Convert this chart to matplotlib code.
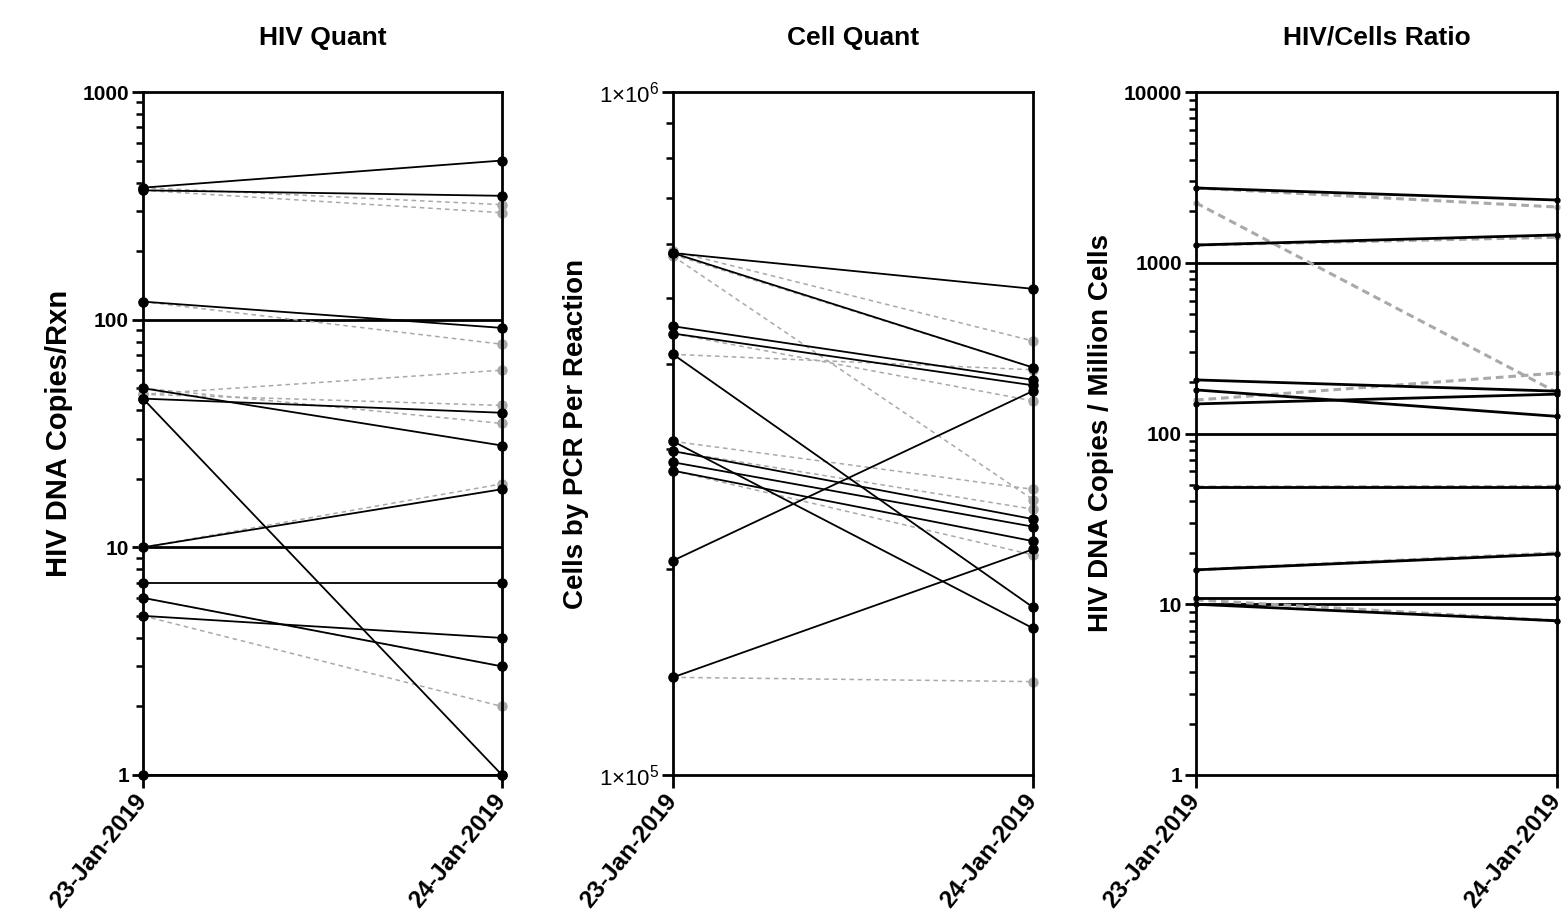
import matplotlib
matplotlib.use("Agg")
import matplotlib.pyplot as plt
from matplotlib.ticker import FixedLocator, LogLocator, NullFormatter, FixedFormatter

plt.rcParams['font.family'] = ['Liberation Sans', 'DejaVu Sans']
plt.rcParams['mathtext.fontset'] = 'custom'
plt.rcParams['mathtext.rm'] = 'Liberation Sans'
plt.rcParams['mathtext.it'] = 'Liberation Sans'

dates = ["23-Jan-2019", "24-Jan-2019"]
titles = ["HIV Quant", "Cell Quant", "HIV/Cells Ratio"]
ylabels = ["HIV DNA Copies/Rxn", "Cells by PCR Per Reaction", "HIV DNA Copies / Million Cells"]

# Panel 1: HIV Quant
hiv_black_d1 = [380, 370, 120, 50, 45, 45, 10, 7, 6, 5, 1]
hiv_black_d2 = [500, 350, 92, 28, 39, 1, 18, 7, 3, 4, 1]
hiv_gray_d1 = [380, 370, 120, 47, 47, 50, 10, 6, 5]
hiv_gray_d2 = [320, 295, 78, 60, 42, 35, 19, 3, 2]
hiv_ref = [100, 10]
hiv_ticks = [1, 10, 100, 1000]
hiv_ticklabels = ["1", "10", "100", "1000"]

# Panel 2: Cell Quant
cell_black_d1 = [581e3, 581e3, 454e3, 443e3, 413e3, 308e3, 298e3, 287e3, 279e3, 206e3, 139e3]
cell_black_d2 = [515e3, 395e3, 379e3, 372e3, 176e3, 164e3, 237e3, 231e3, 220e3, 365e3, 214e3]
cell_gray_d1 = [585e3, 578e3, 575e3, 413e3, 443e3, 308e3, 298e3, 279e3, 139e3]
cell_gray_d2 = [432e3, 395e3, 253e3, 392e3, 353e3, 262e3, 245e3, 210e3, 137e3]
cell_ticks = [1e5, 1e6]
cell_ticklabels = [r"1$\times$10$^{5}$", r"1$\times$10$^{6}$"]

# Panel 3: HIV/Cells Ratio
ratio_black_d1 = [2740, 1270, 206, 180, 149, 48.6, 15.9, 10.9, 10]
ratio_black_d2 = [2330, 1455, 177, 126, 170, 48.6, 19.7, 10.9, 8]
ratio_gray_d1 = [2740, 2240, 1270, 157, 48.6, 15.9, 10.6]
ratio_gray_d2 = [2120, 174, 1410, 226, 49, 20, 8]
ratio_ref = [1000, 100, 10]
ratio_ticks = [1, 10, 100, 1000, 10000]
ratio_ticklabels = ["1", "10", "100", "1000", "10000"]

W, H = 1568, 918
fig = plt.figure(figsize=(W / 100, H / 100), dpi=100)

panels = [
    dict(rect=(143, 92, 502, 775), black=(hiv_black_d1, hiv_black_d2), gray=(hiv_gray_d1, hiv_gray_d2),
         ref=hiv_ref, ylim=(1, 1000), ticks=hiv_ticks, tl=hiv_ticklabels, tlbold=True, tls=15,
         lw=1.3, glw=1.1, ms=6.5, gdash=(3, 2.5), reflw=2.0, yls=21),
    dict(rect=(673, 92, 1033, 775), black=(cell_black_d1, cell_black_d2), gray=(cell_gray_d1, cell_gray_d2),
         ref=[], ylim=(1e5, 1e6), ticks=cell_ticks, tl=cell_ticklabels, tlbold=False, tls=16,
         lw=1.3, glw=1.1, ms=6.5, gdash=(3, 2.5), reflw=2.0, yls=20),
    dict(rect=(1196, 92, 1557, 775), black=(ratio_black_d1, ratio_black_d2), gray=(ratio_gray_d1, ratio_gray_d2),
         ref=ratio_ref, ylim=(1, 10000), ticks=ratio_ticks, tl=ratio_ticklabels, tlbold=True, tls=15,
         lw=2.0, glw=2.2, ms=3.5, gdash=(2.5, 1.6), reflw=2.0, yls=20),
]

gray = "#a9a9a9"
for i, p in enumerate(panels):
    x0, y0, x1, y1 = p["rect"]
    ax = fig.add_axes([x0 / W, 1 - y1 / H, (x1 - x0) / W, (y1 - y0) / H])
    ax.set_yscale("log")
    ax.set_xlim(0, 1)
    ax.set_ylim(*p["ylim"])
    for v in p["ref"]:
        ax.plot([0, 1], [v, v], color="black", lw=p["reflw"], solid_capstyle="butt", zorder=2)
    gd1, gd2 = p["gray"]
    for a, b in zip(gd1, gd2):
        ax.plot([0, 1], [a, b], color=gray, lw=p["glw"], dashes=p["gdash"], marker="o",
                ms=p["ms"], mfc=gray, mec=gray, clip_on=False, zorder=3)
    bd1, bd2 = p["black"]
    for a, b in zip(bd1, bd2):
        ax.plot([0, 1], [a, b], color="black", lw=p["lw"], marker="o",
                ms=p["ms"], mfc="black", mec="black", clip_on=False, zorder=4)
    for s in ax.spines.values():
        s.set_linewidth(2.0)
        s.set_zorder(5)
    ax.yaxis.set_major_locator(FixedLocator(p["ticks"]))
    ax.yaxis.set_major_formatter(FixedFormatter(p["tl"]))
    ax.yaxis.set_minor_locator(LogLocator(base=10, subs=range(2, 10), numticks=20))
    ax.yaxis.set_minor_formatter(NullFormatter())
    ax.tick_params(axis="y", which="major", direction="out", length=8, width=2.0, labelsize=p["tls"], pad=2)
    ax.tick_params(axis="y", which="minor", direction="out", length=5, width=1.8)
    ax.set_xticks([0, 1])
    ax.set_xticklabels(dates)
    ax.tick_params(axis="x", which="major", direction="out", length=9, width=2.0, labelsize=17.5, pad=7)
    for t in ax.get_xticklabels():
        t.set_rotation(51)
        t.set_rotation_mode("anchor")
        t.set_ha("right")
        t.set_va("center")
        t.set_fontweight("bold")
    for t in ax.get_yticklabels():
        t.set_fontweight("bold" if p["tlbold"] else "normal")
    ax.set_title(titles[i], fontsize=19, fontweight="bold", pad=34)
    ax.set_ylabel(ylabels[i], fontsize=p["yls"], fontweight="bold", labelpad=7)

fig.savefig("out.png", dpi=100)
